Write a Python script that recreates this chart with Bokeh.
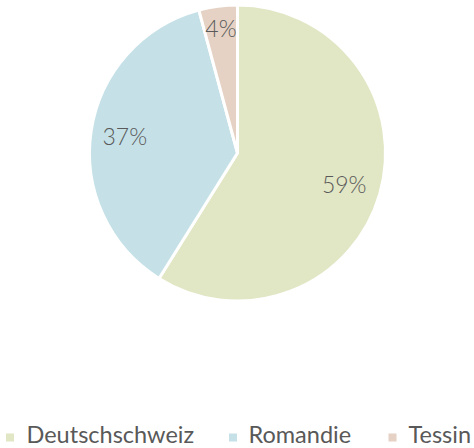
import math
from bokeh.plotting import figure
from bokeh.models import Range1d, ColumnDataSource
from bokeh.core.properties import value
from bokeh.embed import file_html
from bokeh.resources import INLINE

categories = ["Deutschschweiz", "Romandie", "Tessin"]
shares = [58.9, 36.9, 4.2]
labels = ["59%", "37%", "4%"]
colors = ["#e1e6c4", "#c5e1e7", "#e5d2c4"]

W, H = 474, 448
p = figure(width=W, height=H, output_backend="svg", toolbar_location=None,
           x_range=Range1d(0, W), y_range=Range1d(0, H), min_border=0)
p.axis.visible = False
p.grid.visible = False
p.outline_line_color = None
p.background_fill_color = "white"
p.border_fill_color = "white"

cx, cy, R = 237, 295.5, 148
total = sum(shares)
starts, ends, lx, ly = [], [], [], []
cum = 0.0
label_r = [0.75, 0.77, 0.85]
for i, s in enumerate(shares):
    a0 = math.pi / 2 - 2 * math.pi * cum / total
    cum += s
    a1 = math.pi / 2 - 2 * math.pi * cum / total
    starts.append(a0)
    ends.append(a1)
    mid = (a0 + a1) / 2
    lx.append(cx + label_r[i] * R * math.cos(mid))
    ly.append(cy + label_r[i] * R * math.sin(mid))

src = ColumnDataSource(dict(start=starts, end=ends, color=colors, lx=lx, ly=ly, label=labels))
p.wedge(x=cx, y=cy, radius=R, start_angle="start", end_angle="end", direction="clock",
        fill_color="color", line_color="white", line_width=3, source=src)
p.text(x="lx", y="ly", text="label", source=src, text_align="center", text_baseline="middle",
       text_font=value("Lato Light"), text_font_size="23px", text_color="#595959")

# legend
leg_mx = [9.5, 232.5, 392]
leg_tx = [26, 248, 408]
p.scatter(x=leg_mx, y=[11] * 3, marker="square", size=8, fill_color=colors, line_color=None)
p.text(x=leg_tx, y=[15] * 3, text=categories, text_align="left", text_baseline="middle",
       text_font=value("Lato"), text_font_size="23.5px", text_color="#595959")

open("out.html", "w").write(file_html(p, INLINE))
